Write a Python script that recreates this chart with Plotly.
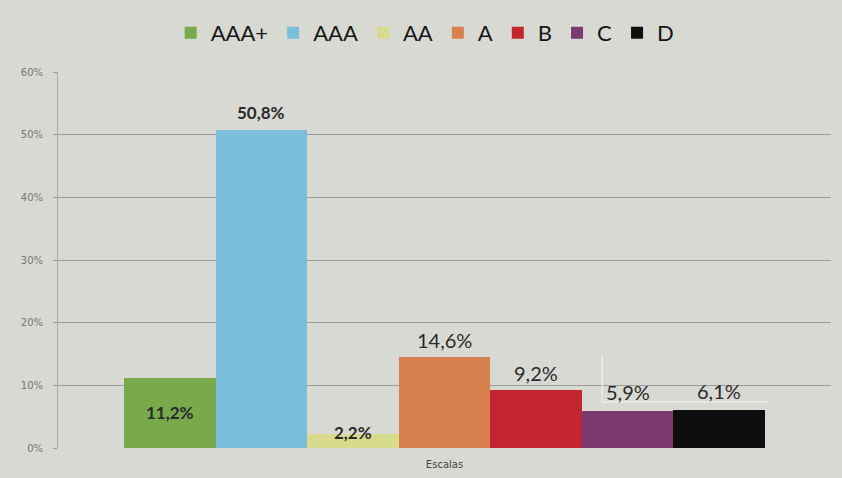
import plotly.graph_objects as go

x_title = "Escalas"
series_names = ["AAA+", "AAA", "AA", "A", "B", "C", "D"]
series_values = [11.2, 50.8, 2.2, 14.6, 9.2, 5.9, 6.1]
series_colors = ["#78a94a", "#7bbedb", "#d8db8c", "#d7814f", "#c4262f", "#7a3a70", "#0e0e0e"]
label_inside = [True, False, False, False, False, False, False]
label_bold = [True, True, True, False, False, False, False]
y_ticks = [0, 10, 20, 30, 40, 50, 60]
y_tick_labels = ["0%", "10%", "20%", "30%", "40%", "50%", "60%"]

fig = go.Figure()
annotations = []
for name, val, col, inside, bold in zip(series_names, series_values, series_colors,
                                        label_inside, label_bold):
    fig.add_trace(go.Bar(
        name=name, x=[name], y=[val],
        marker=dict(color=col, line=dict(width=0)),
    ))
    txt = f"{val:.1f}%".replace(".", ",")
    if bold:
        txt = f"<b>{txt}</b>"
    annotations.append(dict(
        x=name, y=(val / 2 if inside else val), xref="x", yref="y",
        text=txt, showarrow=False, yanchor="middle",
        yshift=(0 if inside else (2 if val < 3 else (19 if val < 7 else 17))),
        font=dict(size=(17 if bold else 20), color="#2a2a2a", family="Lato"),
    ))

fig.update_layout(
    width=842, height=478,
    margin=dict(l=58, r=11, t=72, b=30),
    paper_bgcolor="#d9d9d4", plot_bgcolor="#d9d9d4",
    barmode="overlay", bargap=0,
    font=dict(family="Lato", color="#333"),
    showlegend=True,
    legend=dict(orientation="h", x=0.475, xanchor="center", y=1.16, yanchor="top",
                font=dict(size=22, color="#151515", family="Lato"),
                itemwidth=30, bgcolor="rgba(0,0,0,0)", traceorder="normal"),
    xaxis=dict(range=[-1.22, 7.22], showticklabels=False, showgrid=False,
               showline=False, ticks="", zeroline=False,
               title=dict(text=x_title, font=dict(size=10, color="#444", family="DejaVu Sans"),
                          standoff=12)),
    yaxis=dict(range=[0, 60], tickvals=y_ticks, ticktext=y_tick_labels,
               tickfont=dict(size=10, color="#777", family="DejaVu Sans"), showgrid=True,
               gridcolor="#9c9c9a", gridwidth=1, showline=True, linecolor="#aaaaa6",
               zeroline=False, ticks="outside", ticklen=4, tickcolor="#9c9c9a",
               ticklabelstandoff=8),
    annotations=annotations,
    shapes=[
        dict(type="line", xref="paper", yref="y", x0=0.704, x1=0.704, y0=7.35, y1=14.8,
             line=dict(color="#f4f4f2", width=1)),
        dict(type="line", xref="paper", yref="y", x0=0.704, x1=0.917, y0=7.35, y1=7.35,
             line=dict(color="#f4f4f2", width=1)),
    ],
)

fig.write_html("out.html", config={"displayModeBar": False},
               post_script="document.body.style.margin='0';document.body.style.overflow='hidden';")
